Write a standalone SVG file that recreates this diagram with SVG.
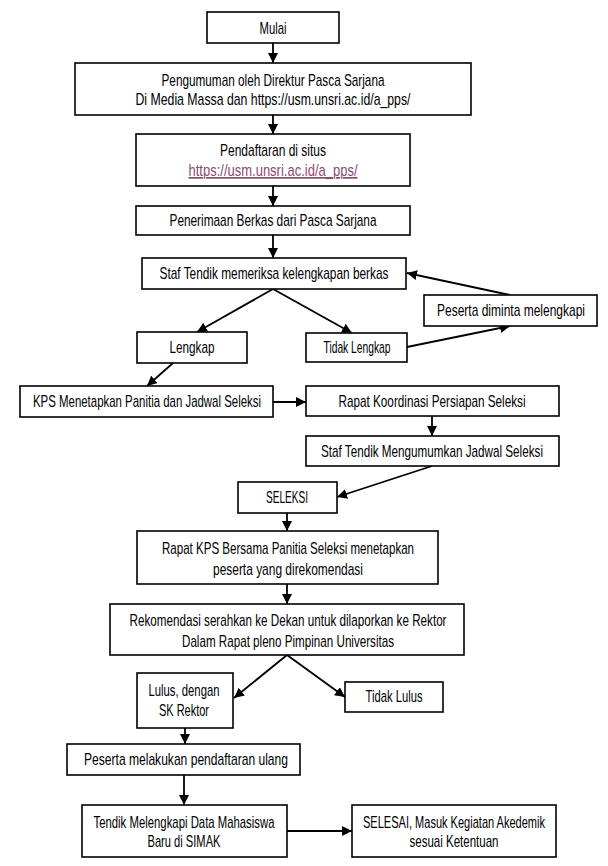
<svg xmlns="http://www.w3.org/2000/svg" width="608" height="866" viewBox="0 0 608 866">
<style>
.b{fill:#fff;stroke:#000;stroke-width:1.6}
.t{font-family:"Liberation Sans",Arial,sans-serif;font-size:17px;fill:#000;text-anchor:middle}
.lk{fill:#8e4a73;text-decoration:underline}
.c{fill:none;stroke:#000;stroke-width:1.8}
</style>
<defs>
<marker id="ah" markerUnits="userSpaceOnUse" markerWidth="10" markerHeight="10" refX="10" refY="5" orient="auto">
<path d="M0,0 L10,5 L0,10 z" fill="#000"/>
</marker>
</defs>
<rect width="608" height="866" fill="#fff"/>
<g id="connectors">
<line class="c" x1="273" y1="43" x2="273" y2="63" marker-end="url(#ah)"/>
<line class="c" x1="273" y1="115" x2="273" y2="134" marker-end="url(#ah)"/>
<line class="c" x1="273" y1="186" x2="273" y2="206" marker-end="url(#ah)"/>
<line class="c" x1="273" y1="235" x2="273" y2="258" marker-end="url(#ah)"/>
<line class="c" x1="273" y1="289" x2="197" y2="332" marker-end="url(#ah)"/>
<line class="c" x1="273" y1="289" x2="352" y2="333" marker-end="url(#ah)"/>
<line class="c" x1="407" y1="347" x2="510" y2="326" marker-end="url(#ah)"/>
<line class="c" x1="510" y1="295" x2="407" y2="273" marker-end="url(#ah)"/>
<line class="c" x1="173" y1="363" x2="147" y2="386" marker-end="url(#ah)"/>
<line class="c" x1="273" y1="402" x2="306" y2="402" marker-end="url(#ah)"/>
<line class="c" x1="432" y1="416" x2="432" y2="436" marker-end="url(#ah)"/>
<line class="c" x1="432" y1="466" x2="337" y2="497" marker-end="url(#ah)"/>
<line class="c" x1="287" y1="513" x2="287" y2="531" marker-end="url(#ah)"/>
<line class="c" x1="287" y1="584" x2="287" y2="604" marker-end="url(#ah)"/>
<line class="c" x1="287" y1="655" x2="234" y2="698" marker-end="url(#ah)"/>
<line class="c" x1="287" y1="655" x2="345" y2="697" marker-end="url(#ah)"/>
<line class="c" x1="185" y1="728" x2="185" y2="744" marker-end="url(#ah)"/>
<line class="c" x1="184" y1="775" x2="184" y2="805" marker-end="url(#ah)"/>
<line class="c" x1="287" y1="831" x2="352" y2="831" marker-end="url(#ah)"/>
</g>
<g id="mulai"><rect class="b" x="207" y="12" width="132" height="31"/><text class="t" x="273" y="34" textLength="27" lengthAdjust="spacingAndGlyphs">Mulai</text></g>
<g id="pengumuman"><rect class="b" x="75" y="63" width="396" height="52"/>
<text class="t" x="273" y="86" textLength="223" lengthAdjust="spacingAndGlyphs">Pengumuman oleh Direktur Pasca Sarjana</text>
<text class="t" x="273" y="105" textLength="275" lengthAdjust="spacingAndGlyphs">Di Media Massa dan https://usm.unsri.ac.id/a_pps/</text></g>
<g id="pendaftaran"><rect class="b" x="136" y="134" width="274" height="52"/>
<text class="t" x="273" y="156" textLength="106" lengthAdjust="spacingAndGlyphs">Pendaftaran di situs</text>
<text class="t lk" x="273" y="176" textLength="169" lengthAdjust="spacingAndGlyphs">https://usm.unsri.ac.id/a_pps/</text></g>
<g id="penerimaan"><rect class="b" x="136" y="206" width="274" height="29"/>
<text class="t" x="273" y="226" textLength="207" lengthAdjust="spacingAndGlyphs">Penerimaan Berkas dari Pasca Sarjana</text></g>
<g id="staf-periksa"><rect class="b" x="142" y="258" width="264" height="31"/>
<text class="t" x="274" y="279" textLength="229" lengthAdjust="spacingAndGlyphs">Staf Tendik memeriksa kelengkapan berkas</text></g>
<g id="peserta-lengkapi"><rect class="b" x="424" y="295" width="173" height="31"/>
<text class="t" x="511" y="316" textLength="148" lengthAdjust="spacingAndGlyphs">Peserta diminta melengkapi</text></g>
<g id="lengkap"><rect class="b" x="137" y="332" width="110" height="31"/>
<text class="t" x="192" y="353" textLength="45" lengthAdjust="spacingAndGlyphs">Lengkap</text></g>
<g id="tidak-lengkap"><rect class="b" x="306" y="333" width="101" height="29"/>
<text class="t" x="357" y="353" textLength="67" lengthAdjust="spacingAndGlyphs">Tidak Lengkap</text></g>
<g id="kps"><rect class="b" x="20" y="386" width="253" height="31"/>
<text class="t" x="147" y="407" textLength="228" lengthAdjust="spacingAndGlyphs">KPS Menetapkan Panitia dan Jadwal Seleksi</text></g>
<g id="rapat-koordinasi"><rect class="b" x="306" y="386" width="253" height="30"/>
<text class="t" x="432" y="407" textLength="187" lengthAdjust="spacingAndGlyphs">Rapat Koordinasi Persiapan Seleksi</text></g>
<g id="staf-umumkan"><rect class="b" x="306" y="436" width="253" height="30"/>
<text class="t" x="432" y="457" textLength="222" lengthAdjust="spacingAndGlyphs">Staf Tendik Mengumumkan Jadwal Seleksi</text></g>
<g id="seleksi"><rect class="b" x="238" y="482" width="99" height="31"/>
<text class="t" x="287" y="503" textLength="42" lengthAdjust="spacingAndGlyphs">SELEKSI</text></g>
<g id="rapat-kps"><rect class="b" x="137" y="531" width="301" height="53"/>
<text class="t" x="288" y="554" textLength="252" lengthAdjust="spacingAndGlyphs">Rapat KPS Bersama Panitia Seleksi menetapkan</text>
<text class="t" x="288" y="575" textLength="150" lengthAdjust="spacingAndGlyphs">peserta yang direkomendasi</text></g>
<g id="rekomendasi"><rect class="b" x="110" y="604" width="354" height="51"/>
<text class="t" x="288" y="626" textLength="317" lengthAdjust="spacingAndGlyphs">Rekomendasi serahkan ke Dekan untuk dilaporkan ke Rektor</text>
<text class="t" x="288" y="647" textLength="212" lengthAdjust="spacingAndGlyphs">Dalam Rapat pleno Pimpinan Universitas</text></g>
<g id="lulus"><rect class="b" x="137" y="673" width="96" height="55"/>
<text class="t" x="184" y="696" textLength="71" lengthAdjust="spacingAndGlyphs">Lulus, dengan</text>
<text class="t" x="184" y="716" textLength="50" lengthAdjust="spacingAndGlyphs">SK Rektor</text></g>
<g id="tidak-lulus"><rect class="b" x="345" y="682" width="98" height="30"/>
<text class="t" x="394" y="702" textLength="57" lengthAdjust="spacingAndGlyphs">Tidak Lulus</text></g>
<g id="daftar-ulang"><rect class="b" x="67" y="744" width="233" height="31"/>
<text class="t" x="186" y="765" textLength="204" lengthAdjust="spacingAndGlyphs">Peserta melakukan pendaftaran ulang</text></g>
<g id="tendik-simak"><rect class="b" x="82" y="805" width="205" height="52"/>
<text class="t" x="184" y="828" textLength="181" lengthAdjust="spacingAndGlyphs">Tendik Melengkapi Data Mahasiswa</text>
<text class="t" x="184" y="847" textLength="73" lengthAdjust="spacingAndGlyphs">Baru di SIMAK</text></g>
<g id="selesai"><rect class="b" x="352" y="805" width="204" height="52"/>
<text class="t" x="454" y="828" textLength="182" lengthAdjust="spacingAndGlyphs">SELESAI, Masuk Kegiatan Akedemik</text>
<text class="t" x="454" y="847" textLength="89" lengthAdjust="spacingAndGlyphs">sesuai Ketentuan</text></g>
</svg>
